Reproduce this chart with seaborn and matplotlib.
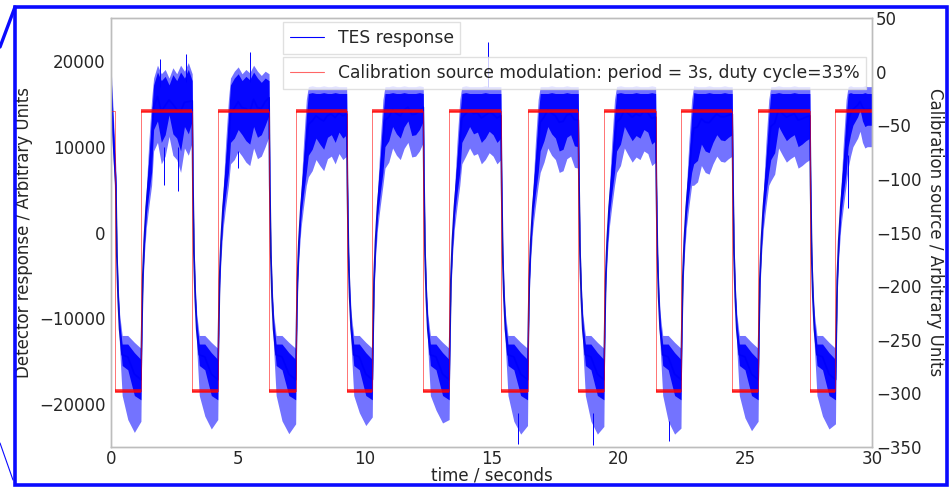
import seaborn as sns
import matplotlib.pyplot as plt
from matplotlib.lines import Line2D
from matplotlib.patches import Rectangle

sns.set_theme(style="white", context="notebook")
plt.rcParams['font.family'] = ['DejaVu Sans']
plt.rcParams['axes.edgecolor'] = '#bdbdbd'
plt.rcParams['axes.linewidth'] = 1.0
plt.rcParams['text.color'] = '#262626'
plt.rcParams['axes.labelcolor'] = '#262626'
plt.rcParams['xtick.color'] = '#262626'
plt.rcParams['ytick.color'] = '#262626'

# ── calibration source (red), switching times ──
fall_times = [0.16, 3.20, 6.23, 9.29, 12.31, 15.37, 18.42, 21.47, 24.49, 27.55]
rise_times = [1.18, 4.21, 7.28, 10.30, 13.33, 16.42, 19.43, 22.47, 25.51, 28.56]
cal_high = -37
cal_low = -298

# ── TES response (blue): envelope of the noisy trace ──
# columns: outer upper, core upper, core lower, outer lower
start_band = (19500, 18500, 14000, 12500)
# shape just after the source switches off (s after falling edge)
fall_dt = [0.03, 0.07, 0.12, 0.18, 0.28]
fall_ou = [7500, -1000, -6000, -9500, -12000]
fall_cu = [6500, -2000, -7000, -10500, -13000]
fall_cl = [4500, -3000, -8000, -12000, -15500]
fall_ol = [3500, -4000, -9000, -13500, -19000]
# shape just after the source switches on (s after rising edge)
rise_dt = [0.03, 0.07, 0.13, 0.21, 0.31, 0.42]
rise_ou = [-11000, -4200, 500, 5000, 10500, 15500]
rise_cu = [-11500, -5000, -300, 4000, 8500, 13500]
rise_cl = [-12500, -6000, -1700, 2000, 4500, 7000]
rise_ol = [-13500, -7000, -2800, 500, 3000, 5500]
# low plateaus
low_frac = [0.3, 0.65, 1.0]
low_ou = [-12000, -12800, -13500]
low_cu = [-13000, -14000, -14800]
low_cl = [-16000, -19000, -19500]
low_floor = [-23300, -22900, -23450, -22500, -22200, -23500, -23500, -23500, -23100, -22900]
low_end = [-22000, -21800, -22300, -21500, -21800, -22500, -22600, -22800, -22000, -22300]
# high plateaus: upper and lower edge of the noise band
high_up = [
    [18000, 19500, 18500, 19000, 18000, 19200, 18500, 19500, 18800, 19800, 18500],
    [18000, 18800, 19300, 18500, 19000, 18600, 19500, 18800, 18300, 18800, 18500],
    [17000, 17100, 17000, 17000, 17100, 17000, 17000, 17100, 17000, 17000, 17000],
    [17000, 17000, 17100, 17000, 17000, 17100, 17000, 17000, 17000, 17100, 17000],
    [17000, 17100, 17000, 17000, 17000, 17000, 17100, 17000, 17000, 17000, 17000],
    [17000, 17000, 17000, 17100, 17000, 17000, 17000, 17100, 17000, 17000, 17000],
    [17000, 17100, 17000, 17000, 17000, 17100, 17000, 17000, 17000, 17100, 17000],
    [17100, 17000, 17000, 17000, 17100, 17000, 17000, 17000, 17100, 17000, 17000],
    [17000, 17000, 17100, 17000, 17000, 17000, 17100, 17000, 17000, 17000, 17000],
    [17000, 17100, 17000, 17000, 17000, 17000, 17000, 17100, 17000, 17000, 17000],
]
high_lo = [
    [9500, 10500, 8000, 8900, 11200, 9000, 8500, 7000, 9850, 9000, 10500],
    [8000, 8500, 9500, 8900, 8200, 7800, 9850, 8600, 8900, 10000, 11200],
    [6500, 7200, 8500, 7800, 7200, 8600, 8900, 8000, 9200, 8500, 8900],
    [7500, 8200, 9850, 9000, 8500, 9800, 10500, 8800, 8900, 9500, 10500],
    [8000, 8900, 9850, 9000, 9200, 8000, 8500, 9300, 8900, 8000, 8500],
    [7000, 8200, 9850, 9000, 8500, 7000, 7200, 8600, 8900, 7600, 7500],
    [7000, 7800, 9850, 9000, 8200, 8800, 8500, 9500, 9200, 7800, 8200],
    [5500, 5900, 7800, 7000, 6800, 8000, 8900, 8300, 8200, 8600, 8900],
    [6000, 6800, 9850, 9000, 8200, 8600, 8900, 7500, 7800, 8200, 8500],
    [7500, 8900, 10000, 10500, 11000, 11800, 10500, 9850, 10000, 10000, 10000],
]
# isolated spikes: time, from, to
spike_t = [1.95, 2.10, 2.65, 2.95, 5.00, 5.48, 14.86, 16.06, 19.01, 22.00, 29.05]
spike_a = [17000, 5500, 4800, 17500, 7500, 17500, 17000, -24700, -24800, -24300, 2800]
spike_b = [20200, 10000, 10000, 20800, 9500, 21000, 22200, -21000, -21000, -22000, 9000]

# ── assemble the envelope ──
rows = [(0.0,) + start_band]
for k in range(10):
    tf, tr = fall_times[k], rise_times[k]
    for i, dt in enumerate(fall_dt):
        rows.append((tf + dt, fall_ou[i], fall_cu[i], fall_cl[i], fall_ol[i]))
    low_ol = [low_floor[k] + 1500, low_floor[k], low_end[k]]
    t_low = tf + fall_dt[-1]
    for i, fr in enumerate(low_frac):
        rows.append((t_low + fr * (tr - t_low), low_ou[i], low_cu[i], low_cl[i], low_ol[i]))
    for i, dt in enumerate(rise_dt):
        rows.append((tr + dt, rise_ou[i], rise_cu[i], rise_cl[i], rise_ol[i]))
    t_hi = tr + 0.50
    t_end = fall_times[k + 1] if k < 9 else 30.0
    n = len(high_lo[k]) - 1
    for j, (up, lo) in enumerate(zip(high_up[k], high_lo[k])):
        rows.append((t_hi + j / n * (t_end - t_hi), up, up - 800, lo + 2500, lo))

tt = [r[0] for r in rows]
ou = [r[1] for r in rows]
cu = [r[2] for r in rows]
cl = [r[3] for r in rows]
ol = [r[4] for r in rows]
mid = [(a + b) / 2 for a, b in zip(cu, cl)]

cal_t = [0.0]
cal_v = [cal_high]
for tf, tr in zip(fall_times, rise_times):
    cal_t += [tf, tr]
    cal_v += [cal_low, cal_high]
cal_t.append(30.0)
cal_v.append(cal_high)

# ── figure ──
fig = plt.figure(figsize=(9.53, 4.90), dpi=100)
ax = fig.add_axes([111 / 953, 43 / 490, 761 / 953, 429 / 490])

sns.lineplot(x=tt, y=mid, ax=ax, color='#1a1aa8', lw=1.3, estimator=None, sort=False, zorder=1)
ax.fill_between(tt, ol, ou, color='blue', alpha=0.55, lw=0, zorder=2)
ax.fill_between(tt, cl, cu, color='blue', alpha=0.95, lw=0, zorder=3)
ax.vlines(spike_t, spike_a, spike_b, color='blue', lw=0.7, zorder=3)

ax.set_xlim(0, 30)
ax.set_ylim(-25000, 25000)
ax.set_xticks([0, 5, 10, 15, 20, 25, 30])
ax.set_yticks([-20000, -10000, 0, 10000, 20000])
ax.tick_params(axis='both', length=0, labelsize=12)
ax.tick_params(axis='y', pad=4)
ax.tick_params(axis='x', pad=2)
ax.set_xlabel('time / seconds', fontsize=12, labelpad=-1)
ax.set_ylabel('Detector response / Arbitrary Units', fontsize=12)

ax2 = ax.twinx()
sns.lineplot(x=cal_t, y=cal_v, ax=ax2, color='red', lw=0.7, alpha=0.55,
             drawstyle='steps-post', estimator=None, sort=False)
ax2.hlines([cal_high] * len(rise_times), rise_times, fall_times[1:] + [30.0],
           color='red', lw=2.6, alpha=0.8)
ax2.hlines([cal_low] * len(fall_times), fall_times, rise_times, color='red', lw=2.6, alpha=0.8)
ax2.set_ylim(-350, 50)
ax2.set_yticks(range(-350, 51, 50))
ax2.tick_params(axis='y', length=0, labelsize=12, pad=3)
ax2.set_ylabel('Calibration source / Arbitrary Units', fontsize=12, rotation=270, labelpad=16)
ax2.grid(False)

leg1 = ax2.legend(handles=[Line2D([], [], color='blue', lw=0.8)], labels=['TES response'],
                  loc='upper left', bbox_to_anchor=(0.226, 0.991), borderaxespad=0,
                  frameon=True, fancybox=False, edgecolor='0.85', framealpha=0.8, fontsize=12.3)
ax2.add_artist(leg1)
ax2.legend(handles=[Line2D([], [], color='red', lw=0.8, alpha=0.6)],
           labels=['Calibration source modulation: period = 3s, duty cycle=33%'],
           loc='upper left', bbox_to_anchor=(0.226, 0.909), borderaxespad=0,
           frameon=True, fancybox=False, edgecolor='0.85', framealpha=0.8, fontsize=12.3)

# slide frame around the chart
fig.patches.append(Rectangle((15.5 / 953, 5 / 490), 932 / 953, 477.5 / 490, transform=fig.transFigure,
                             fill=False, edgecolor='#0a0aff', lw=2.6))
fig.lines.append(Line2D([0, 15 / 953], [1 - 47 / 490, 1 - 7 / 490], transform=fig.transFigure,
                        color='#0a0aff', lw=2.4))
fig.lines.append(Line2D([0, 13 / 953], [1 - 443 / 490, 1 - 480 / 490], transform=fig.transFigure,
                        color='#0a0aff', lw=0.8))

fig.savefig('out.png', dpi=100)
